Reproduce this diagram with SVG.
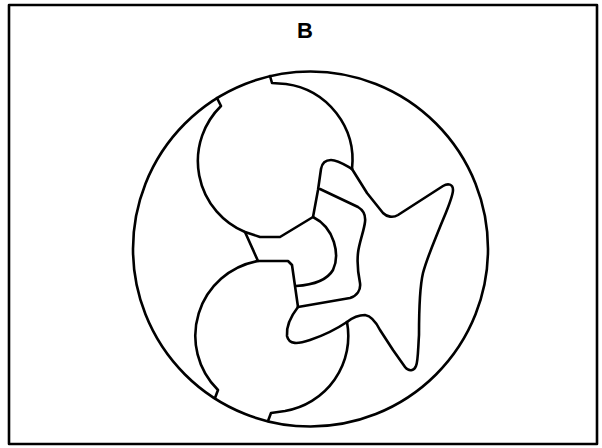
<svg xmlns="http://www.w3.org/2000/svg" width="602" height="448" viewBox="0 0 602 448">
<style>
.ln{fill:none;stroke:#000;stroke-width:2.6;stroke-linejoin:round;stroke-linecap:round}
.lbl{font-family:"Liberation Sans",Arial,sans-serif;font-weight:bold;font-size:22px;fill:#000}
</style>
<rect x="0" y="0" width="602" height="448" fill="#fff"/>
<g id="frame">
<rect class="ln" x="9" y="5" width="588" height="439" stroke-width="2.8"/>
<text class="lbl" x="305" y="38" text-anchor="middle">B</text>
</g>
<g id="outer">
<circle class="ln" cx="310.5" cy="249" r="177.5"/>
</g>
<g id="upper-lobe">
<path class="ln" d="M217,98 L221,106 A77 77 0 0 0 245,232 L260,237 L280,237 L313,217 L318,190 L321,169 C322,163 326,160 331,160 C338,160 345,165 352,169"/>
<path class="ln" d="M270,76 L272,83 L286,84 A77 77 0 0 1 352,169"/>
</g>
<g id="lower-lobe">
<path class="ln" d="M215,398 L218,390 A76 76 0 0 1 258,261"/>
<path class="ln" d="M268,421 L271,413 L285,411 A76 76 0 0 0 347,322"/>
<path class="ln" d="M245,232 L258,261 L288,261 L292,265 L298,307"/>
</g>
<g id="middle">
<path class="ln" d="M298,307 L350,298 C357,296 361,290 360,283 C358,273 357,262 358,253 C359,243 364,231 365,222 C366,214 363,210 358,207 L320,189"/>
<path class="ln" d="M313,217 C335,228 340,255 333,270 C326,282 311,285 296,286"/>
<path class="ln" d="M298,307 C291,316 286,326 287,336 C289,345 298,344 310,340 C325,335 338,328 347,322"/>
</g>
<g id="star">
<path class="ln" d="M352,169 L367,193 L383,213 C387,217 393,218 398,215 L443,186 C448,183 453,184 453,190 C453,197 447,210 440,227 C434,242 427,258 423,273 C419,290 419,315 419,335 C418,350 418,362 416,366 C414,371 409,372 405,367 L393,350 L380,330 C376,322 371,316 365,315 C358,315 352,318 347,322"/>
</g>
</svg>
